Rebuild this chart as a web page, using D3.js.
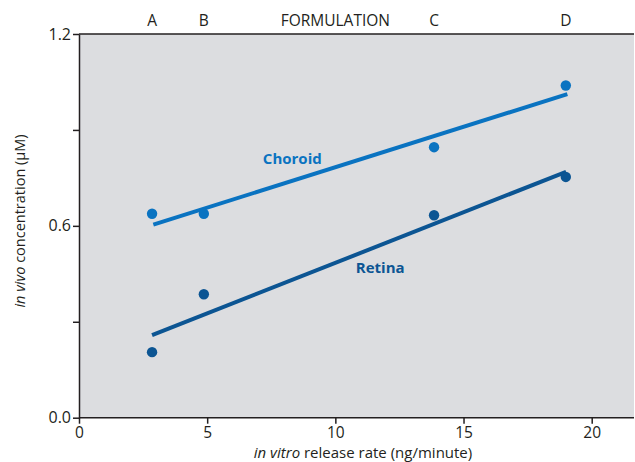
<!DOCTYPE html>
<meta charset="utf-8">
<head>
  <script src="https://d3js.org/d3.v7.min.js"></script>
  <style>
    body { margin: 0; background: #fff; }
    text { font-family: "Open Sans", sans-serif; fill: #231f20; }
    .axis path, .axis line { stroke: #231f20; stroke-width: 1.5px; }
  </style>
</head>
<body>
<script>
// data
var formulations = ["A", "B", "C", "D"];
var releaseRate = [2.85, 4.87, 13.85, 18.99];
var choroid = [0.638, 0.638, 0.846, 1.039];
var retina = [0.205, 0.386, 0.633, 0.753];
// fitted lines (start, end)
var choroidFit = [[2.9, 0.604], [19.05, 1.012]];
var retinaFit = [[2.85, 0.258], [19.0, 0.769]];
var xTicks = [0, 5, 10, 15, 20];
var yTicks = [0, 0.3, 0.6, 0.9, 1.2];
var yTickLabels = ["0.0", "", "0.6", "", "1.2"];

var W = 635, H = 462;
var margin = {top: 34, right: 1, bottom: 44, left: 79};

var svg = d3.select("body").append("svg")
    .attr("width", W)
    .attr("height", H);

var x = d3.scaleLinear().domain([0, 20]).range([margin.left, 591.7]);
var y = d3.scaleLinear().domain([0, 1.2]).range([417.7, margin.top]);
var xMax = x.invert(W - margin.right);

svg.append("rect")
    .attr("x", x(0)).attr("y", y(1.2))
    .attr("width", x(xMax) - x(0)).attr("height", y(0) - y(1.2))
    .attr("fill", "#dcdde0");

// top border
svg.append("line")
    .attr("x1", x(0)).attr("x2", x(xMax))
    .attr("y1", y(1.2)).attr("y2", y(1.2))
    .attr("stroke", "#231f20").attr("stroke-width", 1.5);

var xAxis = svg.append("g").attr("class", "axis")
    .attr("transform", "translate(0," + y(0) + ")")
    .call(d3.axisBottom(x).tickValues(xTicks).tickSize(6).tickSizeOuter(0));
xAxis.select(".domain").attr("d", "M" + x(0) + ",0H" + x(xMax));
xAxis.selectAll("text").attr("font-size", 15.5).attr("y", 15).attr("dy", "0.35em");

var yAxis = svg.append("g").attr("class", "axis")
    .attr("transform", "translate(" + x(0) + ",0)")
    .call(d3.axisLeft(y).tickValues(yTicks).tickSize(6).tickSizeOuter(0)
      .tickFormat(function(d, i) { return yTickLabels[i]; }));
yAxis.selectAll("text").attr("font-size", 16).attr("x", -8);

// formulation labels along the top
svg.selectAll("text.form")
    .data(formulations)
  .enter().append("text")
    .attr("class", "form")
    .attr("x", function(d, i) { return x(releaseRate[i]); })
    .attr("y", 26)
    .attr("text-anchor", "middle")
    .attr("font-size", 15.5)
    .text(function(d) { return d; });
svg.append("text")
    .attr("x", x(10))
    .attr("y", 26)
    .attr("text-anchor", "middle")
    .attr("font-size", 15.5)
    .text("FORMULATION");

var line = d3.line()
    .x(function(d) { return x(d[0]); })
    .y(function(d) { return y(d[1]); });

var series = [
  {name: "Choroid", values: choroid, fit: choroidFit, color: "#0a73c1", lx: 8.32, ly: 0.793},
  {name: "Retina", values: retina, fit: retinaFit, color: "#0c5593", lx: 11.75, ly: 0.452}
];

series.forEach(function(s) {
  svg.append("path")
      .attr("d", line(s.fit))
      .attr("fill", "none")
      .attr("stroke", s.color)
      .attr("stroke-width", 4);

  svg.selectAll(null)
      .data(s.values)
    .enter().append("circle")
      .attr("cx", function(d, i) { return x(releaseRate[i]); })
      .attr("cy", function(d) { return y(d); })
      .attr("r", 5.2)
      .attr("fill", s.color);

  svg.append("text")
      .attr("x", x(s.lx))
      .attr("y", y(s.ly))
      .attr("text-anchor", "middle")
      .attr("font-size", 15)
      .attr("font-weight", "bold")
      .style("fill", s.color)
      .text(s.name);
});

// axis titles
var xt = svg.append("text")
    .attr("x", 363)
    .attr("y", 458)
    .attr("text-anchor", "middle")
    .attr("font-size", 15);
xt.append("tspan").attr("font-style", "italic").text("in vitro");
xt.append("tspan").text(" release rate (ng/minute)");

var yt = svg.append("text")
    .attr("transform", "translate(25,221) rotate(-90)")
    .attr("text-anchor", "middle")
    .attr("font-size", 14.5);
yt.append("tspan").attr("font-style", "italic").text("in vivo");
yt.append("tspan").text(" concentration (\u03bcM)");
</script>
</body>
